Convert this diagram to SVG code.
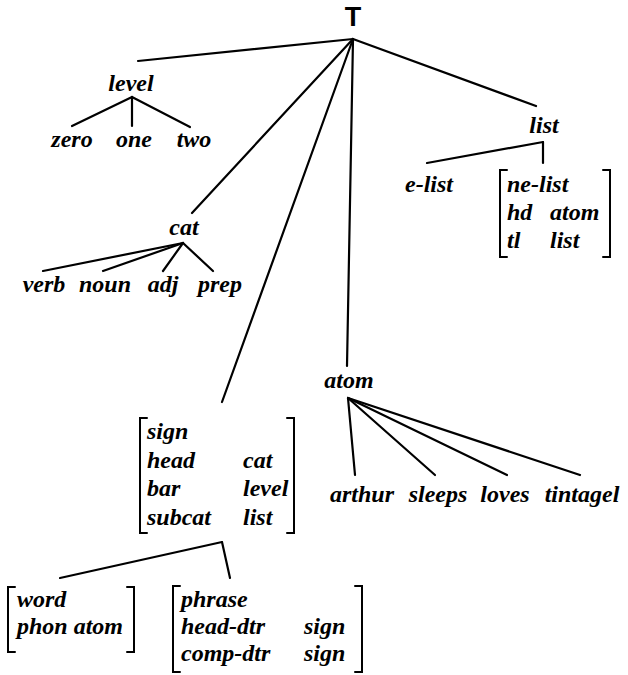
<svg xmlns="http://www.w3.org/2000/svg" width="628" height="675" viewBox="0 0 628 675">
<style>
text{font-family:"Liberation Serif","Times New Roman",serif;font-style:italic;font-weight:bold;font-size:24px;fill:#000}
.m{text-anchor:middle}
.root{font-family:"Liberation Sans",Arial,sans-serif;font-style:normal;font-weight:bold;font-size:27px}
line,polyline{stroke:#000;stroke-width:2.2;fill:none;stroke-linecap:round;stroke-linejoin:miter}
.br{stroke-width:2}
</style>
<rect width="628" height="675" fill="#fff"/>
<g id="edges">
<line x1="353" y1="39" x2="138" y2="61"/>
<line x1="353" y1="39" x2="192" y2="213"/>
<line x1="353" y1="39" x2="222" y2="402"/>
<line x1="353" y1="39" x2="347" y2="366"/>
<line x1="353" y1="39" x2="536" y2="106"/>
<line x1="132" y1="97" x2="72" y2="126"/>
<line x1="132" y1="97" x2="132" y2="126"/>
<line x1="132" y1="97" x2="190" y2="127"/>
<line x1="543" y1="142" x2="427" y2="163"/>
<line x1="543" y1="142" x2="543" y2="163"/>
<line x1="183" y1="243" x2="43" y2="271"/>
<line x1="183" y1="243" x2="103" y2="271"/>
<line x1="183" y1="243" x2="163" y2="271"/>
<line x1="183" y1="243" x2="213" y2="271"/>
<line x1="348" y1="398" x2="355" y2="475"/>
<line x1="348" y1="398" x2="435" y2="475"/>
<line x1="348" y1="398" x2="507" y2="475"/>
<line x1="348" y1="398" x2="580" y2="475"/>
<line x1="222" y1="542" x2="60" y2="578"/>
<line x1="222" y1="542" x2="230" y2="578"/>
</g>
<g id="root"><text class="root m" x="353" y="26">T</text></g>
<g id="level">
<text class="m" x="131" y="91">level</text>
<text class="m" x="72" y="147">zero</text>
<text class="m" x="134" y="147">one</text>
<text class="m" x="194" y="147">two</text>
</g>
<g id="list">
<text class="m" x="544" y="133">list</text>
<text class="m" x="429" y="192">e-list</text>
<polyline class="br" points="507,170 500,170 500,257 507,257"/>
<polyline class="br" points="603,170 610,170 610,257 603,257"/>
<text x="507" y="192">ne-list</text>
<text x="507" y="220">hd</text><text x="550" y="220">atom</text>
<text x="507" y="248">tl</text><text x="550" y="248">list</text>
</g>
<g id="cat">
<text class="m" x="184" y="235">cat</text>
<text class="m" x="44" y="292">verb</text>
<text class="m" x="105" y="292">noun</text>
<text class="m" x="163" y="292">adj</text>
<text class="m" x="220" y="292">prep</text>
</g>
<g id="atom">
<text class="m" x="349" y="388">atom</text>
<text class="m" x="362" y="502">arthur</text>
<text class="m" x="438" y="502">sleeps</text>
<text class="m" x="505" y="502">loves</text>
<text class="m" x="582" y="502">tintagel</text>
</g>
<g id="sign">
<polyline class="br" points="147,418 140,418 140,533 147,533"/>
<polyline class="br" points="287,418 294,418 294,533 287,533"/>
<text x="147" y="439">sign</text>
<text x="147" y="468">head</text><text x="243" y="468">cat</text>
<text x="147" y="496">bar</text><text x="243" y="496">level</text>
<text x="147" y="525">subcat</text><text x="243" y="525">list</text>
</g>
<g id="word">
<polyline class="br" points="15,587 8,587 8,652 15,652"/>
<polyline class="br" points="127,587 134,587 134,652 127,652"/>
<text x="17" y="607">word</text>
<text x="17" y="634">phon atom</text>
</g>
<g id="phrase">
<polyline class="br" points="180,586 173,586 173,672 180,672"/>
<polyline class="br" points="355,586 362,586 362,672 355,672"/>
<text x="181" y="607">phrase</text>
<text x="181" y="634">head-dtr</text><text x="304" y="634">sign</text>
<text x="181" y="661">comp-dtr</text><text x="304" y="661">sign</text>
</g>
</svg>
